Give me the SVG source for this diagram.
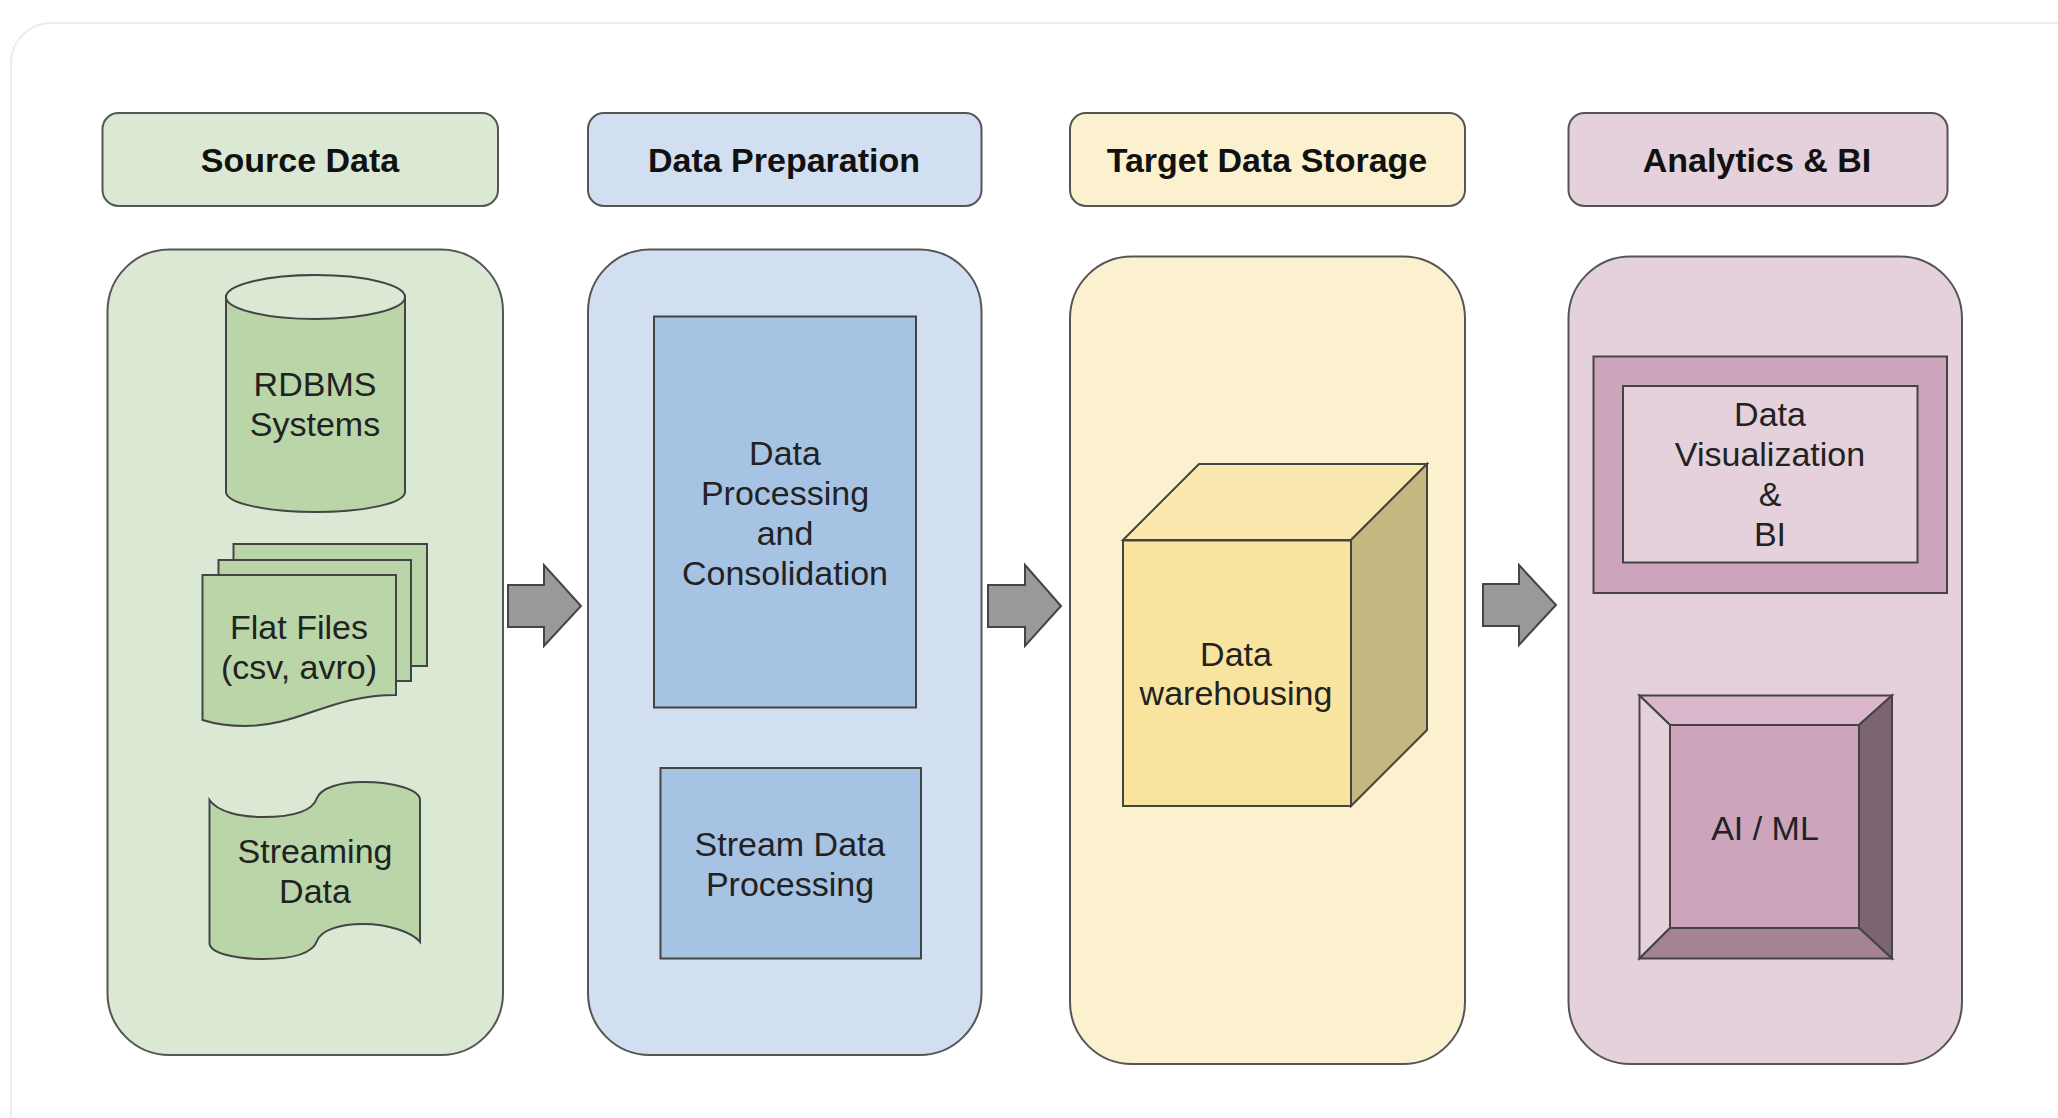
<svg xmlns="http://www.w3.org/2000/svg" width="2058" height="1118" viewBox="0 0 2058 1118">
<style>
text{font-family:"Liberation Sans",Arial,sans-serif;font-size:34px;fill:#222;text-anchor:middle}
.h{font-weight:bold;fill:#111}
.s{stroke:#444;stroke-width:2;stroke-linejoin:miter}
.p{stroke:#555;stroke-width:2}
.g0{fill:#dbe8d4}.g1{fill:#bad6a9}
.b0{fill:#d2dff0}.b1{fill:#a7c3e4}
.y0{fill:#fcf1cf}.y1{fill:#f8e49e}
.m0{fill:#e5d1dc}.m1{fill:#cca5bc}
.arrow{fill:#999;stroke:#444;stroke-width:2}
</style>
<rect width="2058" height="1118" fill="#fff"/>
<rect id="card" x="11" y="23" width="2200" height="1200" rx="40" fill="#fff" stroke="#ececec" stroke-width="2"/>

<g id="header-source"><rect class="p g0" x="102.500" y="113" width="395.500" height="93" rx="16"/><text class="h" x="300" y="172">Source Data</text></g>
<g id="header-preparation"><rect class="p b0" x="588" y="113" width="393.500" height="93" rx="16"/><text class="h" x="784" y="172">Data Preparation</text></g>
<g id="header-storage"><rect class="p y0" x="1070" y="113" width="395" height="93" rx="16"/><text class="h" x="1267" y="172">Target Data Storage</text></g>
<g id="header-analytics"><rect class="p m0" x="1568.500" y="113" width="379" height="93" rx="16"/><text class="h" x="1757" y="172">Analytics &amp; BI</text></g>

<g id="panel-source"><rect class="p g0" x="107.500" y="249.500" width="395.500" height="805.500" rx="62"/></g>
<g id="panel-preparation"><rect class="p b0" x="588" y="249.500" width="393.500" height="805.500" rx="62"/></g>
<g id="panel-storage"><rect class="p y0" x="1070" y="256.500" width="395" height="807.500" rx="62"/></g>
<g id="panel-analytics"><rect class="p m0" x="1568.500" y="256.500" width="393.500" height="807.500" rx="62"/></g>

<g id="rdbms">
<path class="s g1" d="M226 296V492C226 503 266 512 315.500 512S405 503 405 492V296Z"/>
<ellipse class="s g0" cx="315.500" cy="297" rx="89.500" ry="22"/>
<text x="315" y="396">RDBMS</text><text x="315" y="436">Systems</text>
</g>
<g id="flat-files">
<rect class="s g1" x="233.500" y="544" width="193.500" height="122"/>
<rect class="s g1" x="218.500" y="560" width="192.500" height="121"/>
<path class="s g1" d="M202.500 575H396V695C330 695 300 726 245 726C225 726 212 723 202.500 720Z"/>
<text x="299" y="639">Flat Files</text><text x="299" y="679">(csv, avro)</text>
</g>
<g id="streaming">
<path class="s g1" d="M209.500 800C218 812 240 817 263 817C296 817 313 810 317 798C321 788 340 782 363 782C395 782 420 790 420 800V942C412 932 388 924 363 924C340 924 321 930 317 941C313 952 296 959 263 959C235 959 209.500 953 209.500 943Z"/>
<text x="315" y="863">Streaming</text><text x="315" y="903">Data</text>
</g>

<g id="processing"><rect class="s b1" x="654" y="316.500" width="262" height="391"/>
<text x="785" y="465">Data</text><text x="785" y="505">Processing</text><text x="785" y="545">and</text><text x="785" y="585">Consolidation</text></g>
<g id="stream-processing"><rect class="s b1" x="660.500" y="768" width="260.500" height="190.500"/>
<text x="790" y="856">Stream Data</text><text x="790" y="896">Processing</text></g>

<g id="warehouse">
<path class="s" fill="#fbe8af" d="M1123 540L1199 464H1427L1351 540Z"/>
<path class="s" fill="#c6b780" d="M1351 540L1427 464V730L1351 806Z"/>
<rect class="s y1" x="1123" y="540.500" width="228" height="265.500"/>
<text x="1236" y="666">Data</text><text x="1236" y="705">warehousing</text>
</g>

<g id="visualization">
<rect class="s m1" x="1593.500" y="356.500" width="353.500" height="236.500"/>
<rect class="s m0" x="1623" y="386" width="294.500" height="176.500"/>
<text x="1770" y="426">Data</text><text x="1770" y="466">Visualization</text><text x="1770" y="506">&amp;</text><text x="1770" y="546">BI</text>
</g>
<g id="ai-ml">
<path class="s" fill="#dab7ca" d="M1639.500 695.500H1892L1859 725H1670Z"/>
<path class="s" fill="#e5d1dc" d="M1639.500 695.500L1670 725V928L1639.500 958.500Z"/>
<path class="s" fill="#7d6472" d="M1892 695.500V958.500L1859 928V725Z"/>
<path class="s" fill="#a58393" d="M1639.500 958.500L1670 928H1859L1892 958.500Z"/>
<rect class="s m1" x="1670" y="725" width="189" height="203"/>
<text x="1765" y="840">AI / ML</text>
</g>

<g id="connectors">
<path class="arrow" d="M508 585H544V565L581 606L544 646V627H508Z"/>
<path class="arrow" d="M988 585H1025V565L1061 606L1025 646V627H988Z"/>
<path class="arrow" d="M1483 584H1519V565L1556 605L1519 645V626H1483Z"/>
</g>
</svg>
